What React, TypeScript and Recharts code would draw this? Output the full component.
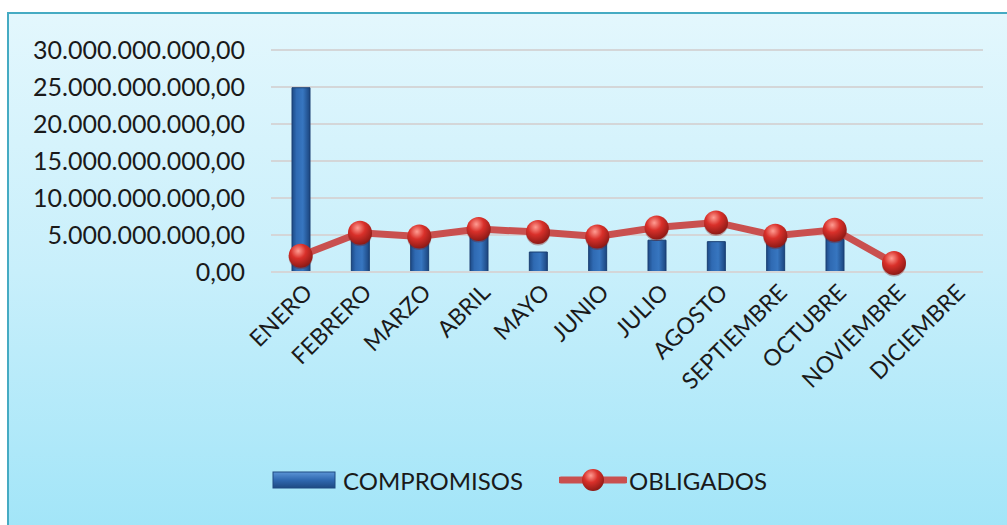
import React from "react";
import {
  ComposedChart,
  Bar,
  Line,
  XAxis,
  YAxis,
  CartesianGrid,
  Legend,
} from "recharts";

const months = [
  "ENERO", "FEBRERO", "MARZO", "ABRIL", "MAYO", "JUNIO",
  "JULIO", "AGOSTO", "SEPTIEMBRE", "OCTUBRE", "NOVIEMBRE", "DICIEMBRE",
];
const compromisos = [
  24900000000, 4600000000, 4300000000, 5500000000, 2700000000, 4400000000,
  4300000000, 4100000000, 4500000000, 5200000000, 0, null,
];
const obligados = [
  2200000000, 5300000000, 4800000000, 5800000000, 5400000000, 4800000000,
  6000000000, 6700000000, 4900000000, 5700000000, 1200000000, null,
];
const yTicks = [0, 5000000000, 10000000000, 15000000000, 20000000000, 25000000000, 30000000000];

const data = months.map((m, i) => ({
  month: m,
  COMPROMISOS: compromisos[i],
  OBLIGADOS: obligados[i],
}));

const FONT = "Lato, 'Open Sans', sans-serif";

function fmt(v: number) {
  const s = Math.round(v).toString().replace(/\B(?=(\d{3})+(?!\d))/g, ".");
  return `${s},00`;
}

// eslint-disable-next-line @typescript-eslint/no-explicit-any
function MonthTick({ x, y, payload }: any) {
  const tx = x + 13;
  const ty = y + 14;
  return (
    <text
      x={tx}
      y={ty}
      transform={`rotate(-45, ${tx}, ${ty})`}
      textAnchor="end"
      fill="#1a1a1a"
      fontSize={23}
      fontFamily={FONT}
    >
      {payload.value}
    </text>
  );
}

// eslint-disable-next-line @typescript-eslint/no-explicit-any
function Dot({ cx, cy, value }: any) {
  if (value == null || cx == null || cy == null) return null;
  return (
    <g>
      <circle cx={cx} cy={cy + 1.5} r={12} fill="#7a1612" opacity={0.35} />
      <circle cx={cx} cy={cy} r={12} fill="url(#ballGrad)" />
    </g>
  );
}

function LegendContent() {
  return (
    <div
      style={{
        display: "flex",
        justifyContent: "center",
        alignItems: "center",
        fontFamily: FONT,
        fontSize: 24,
        color: "#1a1a1a",
        height: 34,
        paddingLeft: 56,
      }}
    >
      <svg width={64} height={18} style={{ marginRight: 7 }}>
        <rect x={1} y={1} width={62} height={16} fill="url(#legBarGrad)" stroke="#1e4a82" strokeWidth={1} />
      </svg>
      <span style={{ marginRight: 36 }}>COMPROMISOS</span>
      <svg width={68} height={28} style={{ marginRight: 2 }}>
        <line x1={2} y1={14} x2={66} y2={14} stroke="#c9504f" strokeWidth={7} strokeLinecap="round" />
        <circle cx={34} cy={14} r={11} fill="url(#ballGrad2)" />
        <defs>
          <radialGradient id="ballGrad2" cx="0.4" cy="0.3" r="0.7">
            <stop offset="0%" stopColor="#ff9c92" />
            <stop offset="45%" stopColor="#d9302a" />
            <stop offset="100%" stopColor="#8e1a16" />
          </radialGradient>
          <linearGradient id="legBarGrad" x1="0" y1="0" x2="0" y2="1">
            <stop offset="0%" stopColor="#5b95d6" />
            <stop offset="50%" stopColor="#2f68b0" />
            <stop offset="100%" stopColor="#1e4a82" />
          </linearGradient>
        </defs>
      </svg>
      <span>OBLIGADOS</span>
    </div>
  );
}

export default function App() {
  return (
    <div style={{ position: "absolute", left: 0, top: 0, width: 1007, height: 525, background: "#fff" }}>
      <div
        style={{
          position: "absolute",
          left: 7,
          top: 12,
          width: 1004,
          height: 520,
          border: "2px solid #45abc3",
          background: "linear-gradient(to bottom, #e3f7fd 0%, #c8effb 50%, #a2e5f8 100%)",
          boxSizing: "border-box",
        }}
      />
      <div style={{ position: "absolute", left: 0, top: 0 }}>
        <ComposedChart
          width={1007}
          height={525}
          data={data}
          margin={{ top: 50, right: 24, left: 0, bottom: 28 }}
          barSize={18}
        >
          <defs>
            <linearGradient id="barGrad" x1="0" y1="0" x2="1" y2="0">
              <stop offset="0%" stopColor="#1d4a86" />
              <stop offset="25%" stopColor="#2f6ab3" />
              <stop offset="60%" stopColor="#3776c0" />
              <stop offset="100%" stopColor="#1b457e" />
            </linearGradient>
            <radialGradient id="ballGrad" cx="0.4" cy="0.3" r="0.7">
              <stop offset="0%" stopColor="#ff9c92" />
              <stop offset="45%" stopColor="#d9302a" />
              <stop offset="100%" stopColor="#8e1a16" />
            </radialGradient>
          </defs>
          <CartesianGrid vertical={false} stroke="#d4d6d8" strokeWidth={2} />
          <XAxis
            dataKey="month"
            tick={<MonthTick />}
            interval={0}
            height={191}
            axisLine={{ stroke: "#d4d6d8", strokeWidth: 2 }}
            tickLine={false}
          />
          <YAxis
            width={271}
            domain={[0, 30000000000]}
            ticks={yTicks}
            tickFormatter={fmt}
            axisLine={false}
            tickLine={false}
            tick={{ fill: "#1a1a1a", fontSize: 25, fontFamily: FONT }}
            tickMargin={20}
          />
          <Legend verticalAlign="bottom" content={<LegendContent />} />
          <Bar
            dataKey="COMPROMISOS"
            fill="url(#barGrad)"
            stroke="#1a3f72"
            strokeWidth={1}
            isAnimationActive={false}
          />
          <Line
            dataKey="OBLIGADOS"
            stroke="#c9504f"
            strokeWidth={7}
            dot={<Dot />}
            activeDot={false}
            isAnimationActive={false}
          />
        </ComposedChart>
      </div>
    </div>
  );
}
